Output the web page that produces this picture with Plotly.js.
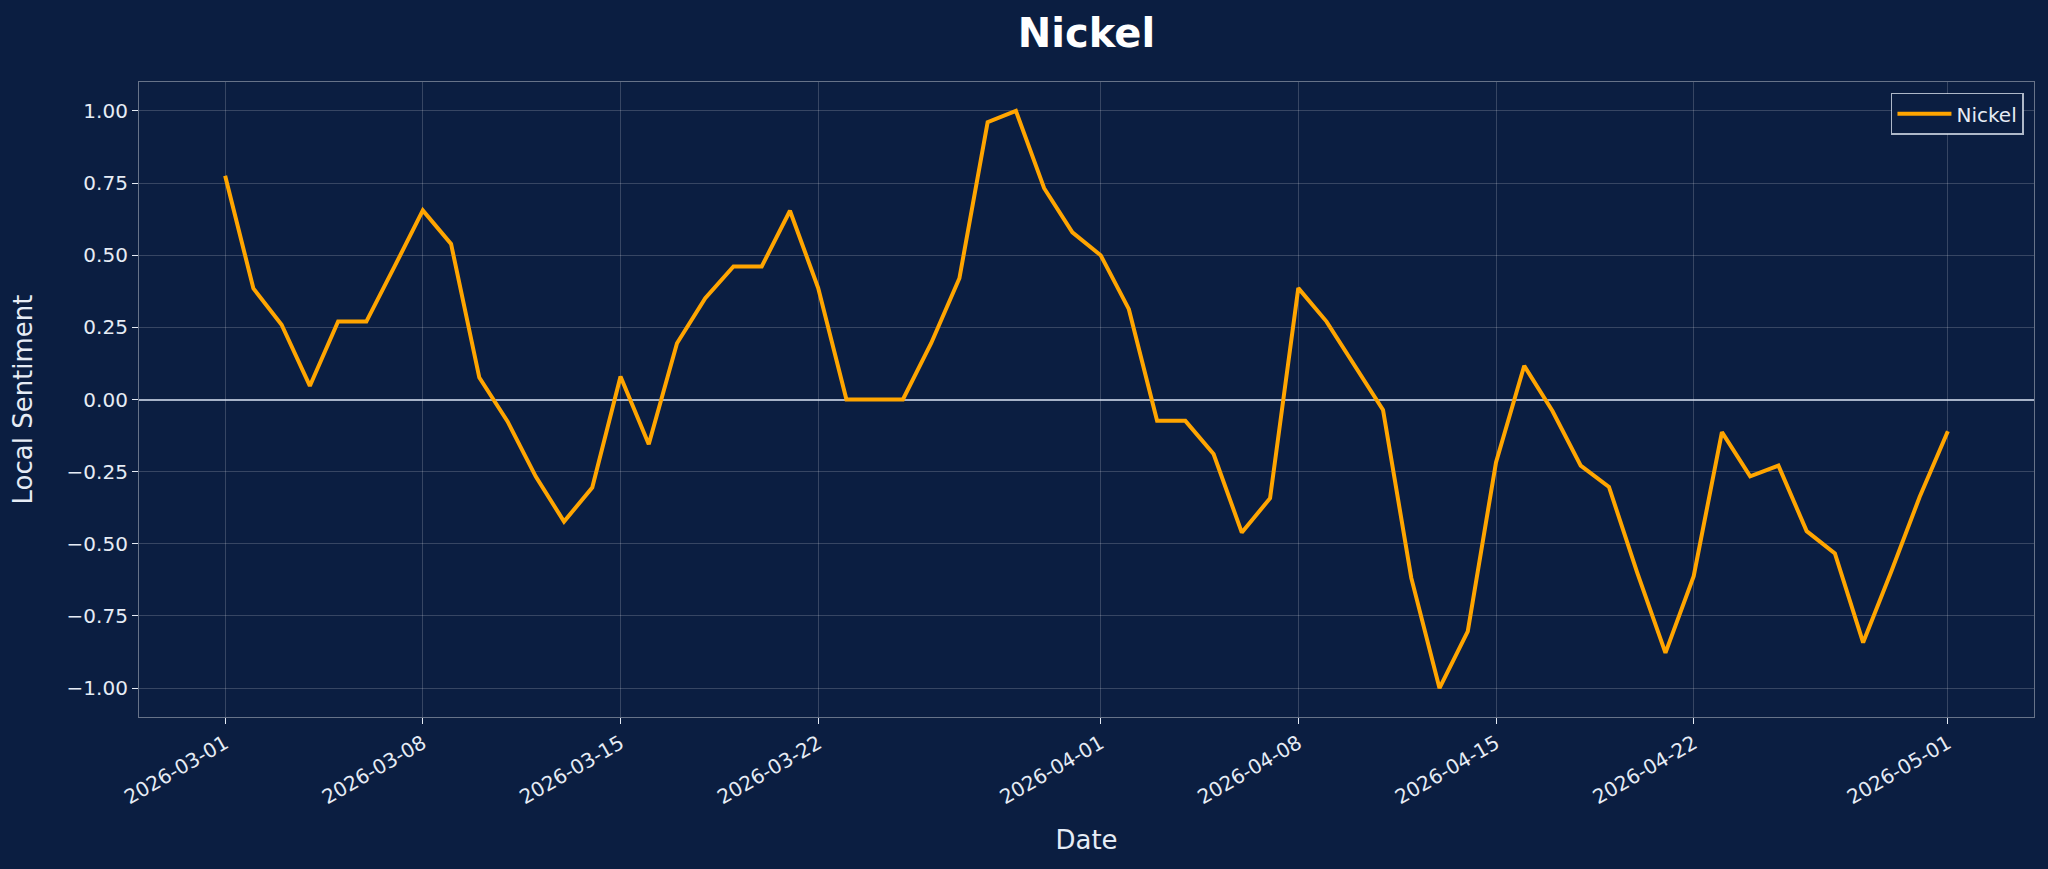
<!DOCTYPE html>
<html>
<head>
<meta charset="utf-8">
<script src="https://cdn.plot.ly/plotly-3.0.1.min.js"></script>
<style>
  html, body { margin: 0; padding: 0; background: #0b1e41; }
  #chart { width: 2048px; height: 869px; }
</style>
</head>
<body>
<div id="chart"></div>
<script>
// Nickel local sentiment, daily ---------------------------------------------
const dates = [
    '2026-03-01', '2026-03-02', '2026-03-03', '2026-03-04', '2026-03-05', '2026-03-06', '2026-03-07',
    '2026-03-08', '2026-03-09', '2026-03-10', '2026-03-11', '2026-03-12', '2026-03-13', '2026-03-14',
    '2026-03-15', '2026-03-16', '2026-03-17', '2026-03-18', '2026-03-19', '2026-03-20', '2026-03-21',
    '2026-03-22', '2026-03-23', '2026-03-24', '2026-03-25', '2026-03-26', '2026-03-27', '2026-03-28',
    '2026-03-29', '2026-03-30', '2026-03-31',
    '2026-04-01', '2026-04-02', '2026-04-03', '2026-04-04', '2026-04-05', '2026-04-06', '2026-04-07',
    '2026-04-08', '2026-04-09', '2026-04-10', '2026-04-11', '2026-04-12', '2026-04-13', '2026-04-14',
    '2026-04-15', '2026-04-16', '2026-04-17', '2026-04-18', '2026-04-19', '2026-04-20', '2026-04-21',
    '2026-04-22', '2026-04-23', '2026-04-24', '2026-04-25', '2026-04-26', '2026-04-27', '2026-04-28',
    '2026-04-29', '2026-04-30',
    '2026-05-01',
];

const nickel = [
    0.775, 0.385, 0.259, 0.047, 0.270, 0.270, 0.461,
    0.655, 0.539, 0.076, -0.076, -0.267, -0.423, -0.305,
    0.080, -0.155, 0.195, 0.351, 0.461, 0.461, 0.654,
    0.386, 0.000, 0.000, 0.000, 0.195, 0.420, 0.961,
    1.000, 0.732, 0.579,
    0.500, 0.313, -0.074, -0.074, -0.189, -0.461, -0.342,
    0.386, 0.270, 0.120, -0.036, -0.618, -1.000, -0.803,
    -0.218, 0.117, -0.040, -0.229, -0.303, -0.600, -0.878,
    -0.612, -0.113, -0.266, -0.229, -0.456, -0.533, -0.842,
    -0.595, -0.338,
    -0.110,
];

const xTicks = ['2026-03-01', '2026-03-08', '2026-03-15', '2026-03-22', '2026-04-01',
                '2026-04-08', '2026-04-15', '2026-04-22', '2026-05-01'];
const yTicks = [-1.00, -0.75, -0.50, -0.25, 0.00, 0.25, 0.50, 0.75, 1.00];

const BG = '#0b1e41';
const TEXT = '#e6ecf5';
const GRID = 'rgba(255,255,255,0.18)';
const SPINE = 'rgba(255,255,255,0.38)';
const FONT = '"DejaVu Sans", "Liberation Sans", sans-serif';

// matplotlib-style 5% padding on the date axis
const t0 = Date.parse(dates[0] + 'T00:00:00Z');
const t1 = Date.parse(dates[dates.length - 1] + 'T00:00:00Z');
const pad = (t1 - t0) * 0.05;
const iso = t => new Date(t).toISOString().replace('T', ' ').replace('Z', '');

const trace = {
    type: 'scatter', mode: 'lines', name: 'Nickel',
    x: dates, y: nickel,
    line: { color: '#ffa500', width: 4 },
    hovertemplate: '%{x}<br>%{y:.2f}<extra></extra>',
};

const axisBase = {
    showgrid: true, gridcolor: GRID, gridwidth: 1,
    showline: true, linecolor: SPINE, linewidth: 1.2, mirror: true,
    ticks: 'outside', ticklen: 6, tickwidth: 1.3, tickcolor: TEXT,
    tickfont: { family: FONT, size: 20, color: TEXT },
};

const layout = {
    width: 2048, height: 869,
    paper_bgcolor: BG, plot_bgcolor: BG,
    font: { family: FONT, color: TEXT },
    margin: { l: 139, r: 14, t: 82, b: 152 },
    title: {
        text: '<b>Nickel</b>',
        font: { family: FONT, size: 40, color: '#ffffff' },
        x: 0.5305, xanchor: 'center', y: 0.962, yanchor: 'middle',
    },
    xaxis: {
        ...axisBase,
        type: 'date',
        range: [iso(t0 - pad), iso(t1 + pad)],
        tickmode: 'array', tickvals: xTicks, ticktext: xTicks,
        tickangle: -30,
        zeroline: false,
        title: { text: 'Date', font: { family: FONT, size: 26, color: TEXT }, standoff: 22 },
    },
    yaxis: {
        ...axisBase,
        range: [-1.1, 1.1],
        tickmode: 'array', tickvals: yTicks, tickformat: '.2f',
        zeroline: true, zerolinecolor: 'rgba(220,230,245,0.75)', zerolinewidth: 2,
        title: { text: 'Local Sentiment', font: { family: FONT, size: 26, color: TEXT }, standoff: 26 },
    },
    showlegend: true,
    legend: {
        x: 0.9947, xanchor: 'right', y: 0.983, yanchor: 'top',
        bgcolor: BG, bordercolor: 'rgba(230,236,245,0.75)', borderwidth: 1.5,
        itemwidth: 54,
        font: { family: FONT, size: 20, color: TEXT },
    },
};

Plotly.newPlot('chart', [trace], layout, { displayModeBar: false, responsive: false });
</script>
</body>
</html>
